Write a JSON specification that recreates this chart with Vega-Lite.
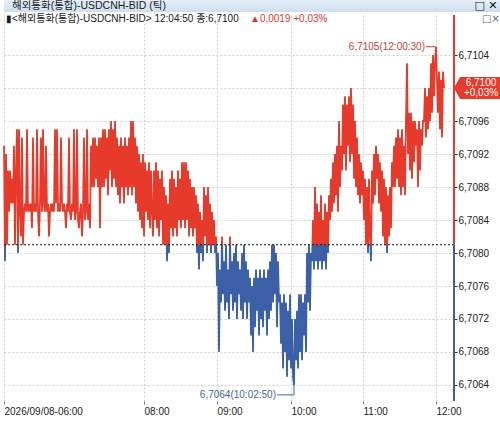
{
"$schema": "https://vega.github.io/schema/vega-lite/v6.json",
"padding": 0,
"background": "white",
"spacing": 3,
"bounds": "flush",
"config": {"view": {"stroke": null}, "font": "Liberation Sans"},
"vconcat": [
{
"width": 500, "height": 12,
"view": {"fill": {"gradient": "linear", "x1": 0, "y1": 0, "x2": 0, "y2": 1, "stops": [{"offset": 0, "color": "#e6eff8"}, {"offset": 1, "color": "#cddff0"}]}, "stroke": null},
"data": {"values": [{}]},
"layer": [
{"mark": {"type": "text", "align": "left", "baseline": "middle", "fontSize": 10.5, "font": "Liberation Sans, Noto Sans CJK KR", "color": "#1a1a1a", "text": "해외통화(통합)-USDCNH-BID (틱)"},
 "encoding": {"x": {"datum": 8, "type": "quantitative", "scale": {"domain": [0, 500], "nice": false, "zero": false}, "axis": null}}},
{"mark": {"type": "text", "align": "center", "baseline": "middle", "fontSize": 11, "font": "DejaVu Sans", "color": "#111", "text": "□ ✕"},
 "encoding": {"x": {"datum": 482, "type": "quantitative", "axis": null}}}
]
},
{
"width": 450, "height": 386,
"resolve": {"axis": {"x": "independent", "y": "independent"}},
"layer": [
{
"data": {"values": [
{"t":0,"v":6.7093},{"t":1,"v":6.7079},{"t":2,"v":6.7092},{"t":3,"v":6.7081},{"t":4,"v":6.709},{"t":5,"v":6.7085},{"t":6,"v":6.709},{"t":7,"v":6.7086},{"t":8,"v":6.7089},{"t":9,"v":6.7086},
{"t":10,"v":6.7093},{"t":11,"v":6.7081},{"t":12,"v":6.709},{"t":13,"v":6.7095},{"t":14,"v":6.708},{"t":15,"v":6.7095},{"t":16,"v":6.7085},{"t":17,"v":6.7082},{"t":18,"v":6.7094},{"t":19,"v":6.7081},
{"t":20,"v":6.7085},{"t":21,"v":6.7086},{"t":22,"v":6.7085},{"t":23,"v":6.7095},{"t":24,"v":6.7085},{"t":25,"v":6.7086},{"t":26,"v":6.7085},{"t":27,"v":6.7086},{"t":28,"v":6.7083},{"t":29,"v":6.7094},
{"t":30,"v":6.7085},{"t":31,"v":6.7086},{"t":32,"v":6.7085},{"t":33,"v":6.7095},{"t":34,"v":6.7085},{"t":35,"v":6.7082},{"t":36,"v":6.7086},{"t":37,"v":6.7094},{"t":38,"v":6.7085},{"t":39,"v":6.7095},
{"t":40,"v":6.7086},{"t":41,"v":6.7085},{"t":42,"v":6.7093},{"t":43,"v":6.7085},{"t":44,"v":6.7086},{"t":45,"v":6.7082},{"t":46,"v":6.7085},{"t":47,"v":6.7086},{"t":48,"v":6.7085},{"t":49,"v":6.7086},
{"t":50,"v":6.7085},{"t":51,"v":6.7095},{"t":52,"v":6.7086},{"t":53,"v":6.7095},{"t":54,"v":6.7085},{"t":55,"v":6.7086},{"t":56,"v":6.7085},{"t":57,"v":6.7094},{"t":58,"v":6.7086},{"t":59,"v":6.7085},
{"t":60,"v":6.7086},{"t":61,"v":6.7085},{"t":62,"v":6.7083},{"t":63,"v":6.7086},{"t":64,"v":6.7085},{"t":65,"v":6.7094},{"t":66,"v":6.7085},{"t":67,"v":6.7084},{"t":68,"v":6.7086},{"t":69,"v":6.7085},
{"t":70,"v":6.7095},{"t":71,"v":6.7084},{"t":72,"v":6.7085},{"t":73,"v":6.7095},{"t":74,"v":6.7084},{"t":75,"v":6.7083},{"t":76,"v":6.7085},{"t":77,"v":6.7086},{"t":78,"v":6.7082},{"t":79,"v":6.7085},
{"t":80,"v":6.7094},{"t":81,"v":6.7084},{"t":82,"v":6.7085},{"t":83,"v":6.7095},{"t":84,"v":6.7084},{"t":85,"v":6.7086},{"t":86,"v":6.7083},{"t":87,"v":6.7093},{"t":88,"v":6.7088},{"t":89,"v":6.7094},
{"t":90,"v":6.7088},{"t":91,"v":6.7094},{"t":92,"v":6.7089},{"t":93,"v":6.7093},{"t":94,"v":6.7088},{"t":95,"v":6.7094},{"t":96,"v":6.7083},{"t":97,"v":6.7094},{"t":98,"v":6.7088},{"t":99,"v":6.7095},
{"t":100,"v":6.7088},{"t":101,"v":6.7095},{"t":102,"v":6.7089},{"t":103,"v":6.7094},{"t":104,"v":6.7087},{"t":105,"v":6.7095},{"t":106,"v":6.709},{"t":107,"v":6.7096},{"t":108,"v":6.7088},{"t":109,"v":6.7095},
{"t":110,"v":6.7089},{"t":111,"v":6.7096},{"t":112,"v":6.7088},{"t":113,"v":6.7094},{"t":114,"v":6.7087},{"t":115,"v":6.7093},{"t":116,"v":6.7086},{"t":117,"v":6.7094},{"t":118,"v":6.7088},{"t":119,"v":6.7093},
{"t":120,"v":6.7086},{"t":121,"v":6.7094},{"t":122,"v":6.7088},{"t":123,"v":6.7093},{"t":124,"v":6.7087},{"t":125,"v":6.7094},{"t":126,"v":6.7088},{"t":127,"v":6.7096},{"t":128,"v":6.7087},{"t":129,"v":6.7096},
{"t":130,"v":6.7088},{"t":131,"v":6.7094},{"t":132,"v":6.7086},{"t":133,"v":6.7093},{"t":134,"v":6.7085},{"t":135,"v":6.7092},{"t":136,"v":6.7084},{"t":137,"v":6.7091},{"t":138,"v":6.7083},{"t":139,"v":6.7092},
{"t":140,"v":6.7082},{"t":141,"v":6.7091},{"t":142,"v":6.7085},{"t":143,"v":6.709},{"t":144,"v":6.7084},{"t":145,"v":6.7091},{"t":146,"v":6.7083},{"t":147,"v":6.709},{"t":148,"v":6.7085},{"t":149,"v":6.7082},
{"t":150,"v":6.709},{"t":151,"v":6.7084},{"t":152,"v":6.7091},{"t":153,"v":6.7083},{"t":154,"v":6.709},{"t":155,"v":6.7082},{"t":156,"v":6.7089},{"t":157,"v":6.7084},{"t":158,"v":6.709},{"t":159,"v":6.7081},
{"t":160,"v":6.7088},{"t":161,"v":6.7081},{"t":162,"v":6.7087},{"t":163,"v":6.7079},{"t":164,"v":6.7086},{"t":165,"v":6.708},{"t":166,"v":6.7089},{"t":167,"v":6.7083},{"t":168,"v":6.709},{"t":169,"v":6.7082},
{"t":170,"v":6.7089},{"t":171,"v":6.7083},{"t":172,"v":6.7088},{"t":173,"v":6.7082},{"t":174,"v":6.709},{"t":175,"v":6.7084},{"t":176,"v":6.7089},{"t":177,"v":6.7083},{"t":178,"v":6.7091},{"t":179,"v":6.7084},
{"t":180,"v":6.7091},{"t":181,"v":6.7083},{"t":182,"v":6.7091},{"t":183,"v":6.7084},{"t":184,"v":6.709},{"t":185,"v":6.7082},{"t":186,"v":6.7089},{"t":187,"v":6.7083},{"t":188,"v":6.7088},{"t":189,"v":6.7082},
{"t":190,"v":6.7088},{"t":191,"v":6.7083},{"t":192,"v":6.7087},{"t":193,"v":6.708},{"t":194,"v":6.7086},{"t":195,"v":6.7078},{"t":196,"v":6.7085},{"t":197,"v":6.708},{"t":198,"v":6.7084},{"t":199,"v":6.7079},
{"t":200,"v":6.7088},{"t":201,"v":6.7082},{"t":202,"v":6.7087},{"t":203,"v":6.708},{"t":204,"v":6.7088},{"t":205,"v":6.7081},{"t":206,"v":6.7086},{"t":207,"v":6.708},{"t":208,"v":6.7085},{"t":209,"v":6.7081},
{"t":210,"v":6.7084},{"t":211,"v":6.708},{"t":212,"v":6.7082},{"t":213,"v":6.7076},{"t":214,"v":6.708},{"t":215,"v":6.7068},{"t":216,"v":6.7078},{"t":217,"v":6.7074},{"t":218,"v":6.7082},{"t":219,"v":6.7075},
{"t":220,"v":6.7079},{"t":221,"v":6.7073},{"t":222,"v":6.7081},{"t":223,"v":6.7074},{"t":224,"v":6.7078},{"t":225,"v":6.7072},{"t":226,"v":6.7082},{"t":227,"v":6.7075},{"t":228,"v":6.7079},{"t":229,"v":6.7073},
{"t":230,"v":6.708},{"t":231,"v":6.7074},{"t":232,"v":6.7081},{"t":233,"v":6.7072},{"t":234,"v":6.7079},{"t":235,"v":6.7075},{"t":236,"v":6.7078},{"t":237,"v":6.7073},{"t":238,"v":6.708},{"t":239,"v":6.7072},
{"t":240,"v":6.7081},{"t":241,"v":6.7074},{"t":242,"v":6.7079},{"t":243,"v":6.7072},{"t":244,"v":6.7078},{"t":245,"v":6.7074},{"t":246,"v":6.7077},{"t":247,"v":6.707},{"t":248,"v":6.7076},{"t":249,"v":6.7068},
{"t":250,"v":6.7077},{"t":251,"v":6.7071},{"t":252,"v":6.7078},{"t":253,"v":6.7073},{"t":254,"v":6.7077},{"t":255,"v":6.707},{"t":256,"v":6.7078},{"t":257,"v":6.7072},{"t":258,"v":6.7077},{"t":259,"v":6.7071},
{"t":260,"v":6.7078},{"t":261,"v":6.7073},{"t":262,"v":6.7077},{"t":263,"v":6.707},{"t":264,"v":6.7078},{"t":265,"v":6.7072},{"t":266,"v":6.7079},{"t":267,"v":6.7073},{"t":268,"v":6.7081},{"t":269,"v":6.7074},
{"t":270,"v":6.7081},{"t":271,"v":6.7075},{"t":272,"v":6.708},{"t":273,"v":6.7071},{"t":274,"v":6.7079},{"t":275,"v":6.7074},{"t":276,"v":6.7075},{"t":277,"v":6.7069},{"t":278,"v":6.7074},{"t":279,"v":6.7066},
{"t":280,"v":6.7075},{"t":281,"v":6.7068},{"t":282,"v":6.7074},{"t":283,"v":6.7065},{"t":284,"v":6.7073},{"t":285,"v":6.7067},{"t":286,"v":6.7075},{"t":287,"v":6.7066},{"t":288,"v":6.7072},{"t":289,"v":6.7065},
{"t":290,"v":6.7064},{"t":291,"v":6.7072},{"t":292,"v":6.7067},{"t":293,"v":6.7073},{"t":294,"v":6.7066},{"t":295,"v":6.7075},{"t":296,"v":6.7068},{"t":297,"v":6.7075},{"t":298,"v":6.7067},{"t":299,"v":6.7074},
{"t":300,"v":6.707},{"t":301,"v":6.7075},{"t":302,"v":6.7068},{"t":303,"v":6.708},{"t":304,"v":6.7074},{"t":305,"v":6.7081},{"t":306,"v":6.7073},{"t":307,"v":6.708},{"t":308,"v":6.7079},{"t":309,"v":6.7084},
{"t":310,"v":6.7078},{"t":311,"v":6.7088},{"t":312,"v":6.7079},{"t":313,"v":6.7086},{"t":314,"v":6.7078},{"t":315,"v":6.7085},{"t":316,"v":6.7079},{"t":317,"v":6.7087},{"t":318,"v":6.7078},{"t":319,"v":6.7084},
{"t":320,"v":6.7079},{"t":321,"v":6.7086},{"t":322,"v":6.7078},{"t":323,"v":6.7085},{"t":324,"v":6.708},{"t":325,"v":6.7087},{"t":326,"v":6.7084},{"t":327,"v":6.7089},{"t":328,"v":6.7085},{"t":329,"v":6.7091},
{"t":330,"v":6.7086},{"t":331,"v":6.7092},{"t":332,"v":6.7087},{"t":333,"v":6.7093},{"t":334,"v":6.7085},{"t":335,"v":6.7096},{"t":336,"v":6.7088},{"t":337,"v":6.7093},{"t":338,"v":6.709},{"t":339,"v":6.7098},
{"t":340,"v":6.7092},{"t":341,"v":6.7099},{"t":342,"v":6.709},{"t":343,"v":6.7098},{"t":344,"v":6.7093},{"t":345,"v":6.7099},{"t":346,"v":6.7091},{"t":347,"v":6.71},{"t":348,"v":6.7092},{"t":349,"v":6.7098},
{"t":350,"v":6.7089},{"t":351,"v":6.7096},{"t":352,"v":6.7088},{"t":353,"v":6.7094},{"t":354,"v":6.7087},{"t":355,"v":6.7092},{"t":356,"v":6.7086},{"t":357,"v":6.7091},{"t":358,"v":6.7087},{"t":359,"v":6.709},
{"t":360,"v":6.7084},{"t":361,"v":6.7089},{"t":362,"v":6.7081},{"t":363,"v":6.7088},{"t":364,"v":6.708},{"t":365,"v":6.7089},{"t":366,"v":6.7082},{"t":367,"v":6.7079},{"t":368,"v":6.709},{"t":369,"v":6.7086},
{"t":370,"v":6.7092},{"t":371,"v":6.7087},{"t":372,"v":6.7093},{"t":373,"v":6.7089},{"t":374,"v":6.7092},{"t":375,"v":6.7086},{"t":376,"v":6.7091},{"t":377,"v":6.7085},{"t":378,"v":6.709},{"t":379,"v":6.7082},
{"t":380,"v":6.7089},{"t":381,"v":6.7081},{"t":382,"v":6.7088},{"t":383,"v":6.708},{"t":384,"v":6.7087},{"t":385,"v":6.7082},{"t":386,"v":6.7088},{"t":387,"v":6.7083},{"t":388,"v":6.7091},{"t":389,"v":6.7088},
{"t":390,"v":6.7093},{"t":391,"v":6.7088},{"t":392,"v":6.7094},{"t":393,"v":6.7089},{"t":394,"v":6.7095},{"t":395,"v":6.7088},{"t":396,"v":6.7094},{"t":397,"v":6.7087},{"t":398,"v":6.7095},{"t":399,"v":6.7088},
{"t":400,"v":6.7093},{"t":401,"v":6.7087},{"t":402,"v":6.7096},{"t":403,"v":6.7103},{"t":404,"v":6.7092},{"t":405,"v":6.7097},{"t":406,"v":6.709},{"t":407,"v":6.7097},{"t":408,"v":6.7089},{"t":409,"v":6.7096},
{"t":410,"v":6.7091},{"t":411,"v":6.7096},{"t":412,"v":6.7093},{"t":413,"v":6.7095},{"t":414,"v":6.7088},{"t":415,"v":6.7096},{"t":416,"v":6.709},{"t":417,"v":6.7095},{"t":418,"v":6.7093},{"t":419,"v":6.7096},
{"t":420,"v":6.7096},{"t":421,"v":6.71},{"t":422,"v":6.7094},{"t":423,"v":6.7099},{"t":424,"v":6.7095},{"t":425,"v":6.71},{"t":426,"v":6.7096},{"t":427,"v":6.7103},{"t":428,"v":6.7097},{"t":429,"v":6.7104},
{"t":430,"v":6.7099},{"t":431,"v":6.7103},{"t":432,"v":6.7105},{"t":433,"v":6.7101},{"t":434,"v":6.7097},{"t":435,"v":6.7102},{"t":436,"v":6.7095},{"t":437,"v":6.7101},{"t":438,"v":6.7094},{"t":439,"v":6.7102},{"t":440,"v":6.71}
]},
"mark": {"type": "line", "interpolate": "linear", "strokeWidth": 1.8, "stroke": {"gradient": "linear", "x1": 0, "y1": 0, "x2": 0, "y2": 1, "stops": [{"offset": 0, "color": "#e83a2b"}, {"offset": 0.5853, "color": "#e83a2b"}, {"offset": 0.5854, "color": "#3c60a8"}, {"offset": 1, "color": "#3c60a8"}]}},
"encoding": {
 "x": {"field": "t", "type": "quantitative", "scale": {"domain": [0, 450], "nice": false, "zero": false},
   "axis": {"orient": "bottom", "values": [0, 140, 213, 287, 359, 432], "labelExpr": "datum.value==0?'2026/09/08-06:00':datum.value==140?'08:00':datum.value==213?'09:00':datum.value==287?'10:00':datum.value==359?'11:00':'12:00'", "labelAlign": "left", "labelBaseline": "top", "labelPadding": 2, "labelFontSize": 10, "labelColor": "#222", "tickSize": 3, "tickColor": "#777", "domain": false, "grid": true, "gridColor": "#d2d2d2", "gridDash": [2, 2], "title": null, "labelOverlap": false, "labelFlush": false}},
 "y": {"field": "v", "type": "quantitative", "scale": {"domain": [6.706206, 6.710885], "nice": false, "zero": false},
   "axis": {"orient": "right", "values": [6.7064, 6.7068, 6.7072, 6.7076, 6.708, 6.7084, 6.7088, 6.7092, 6.7096, 6.71, 6.7104], "labelExpr": "abs(datum.value-6.71)<0.00001?'':replace(format(datum.value,'.4f'),'.',',')", "labelFontSize": 10, "labelColor": "#222", "labelPadding": 1, "tickSize": 3, "tickColor": "#333", "domain": false, "grid": true, "gridColor": "#d2d2d2", "gridDash": [2, 2], "title": null, "labelOverlap": false, "labelFlush": false}}
}
},
{"data": {"values": [{}]}, "mark": {"type": "rule", "color": "#111", "strokeDash": [2, 2], "strokeWidth": 1},
 "encoding": {"x": {"datum": 0, "type": "quantitative", "axis": null}, "x2": {"datum": 450}, "y": {"datum": 6.7081, "type": "quantitative", "axis": null}}},
{"data": {"values": [{}]}, "mark": {"type": "rule", "color": "#e83a2b", "strokeWidth": 2},
 "encoding": {"x": {"datum": 450, "type": "quantitative", "axis": null}, "y": {"datum": 6.7081, "type": "quantitative", "axis": null}, "y2": {"datum": 6.710885}}},
{"data": {"values": [{}]}, "mark": {"type": "rule", "color": "#3c60a8", "strokeWidth": 2},
 "encoding": {"x": {"datum": 450, "type": "quantitative", "axis": null}, "y": {"datum": 6.706206, "type": "quantitative", "axis": null}, "y2": {"datum": 6.7081}}},
{"data": {"values": [{}]}, "mark": {"type": "text", "align": "right", "baseline": "middle", "fontSize": 10, "color": "#c0463a", "text": "6,7105(12:00:30)"},
 "encoding": {"x": {"datum": 421, "type": "quantitative", "axis": null}, "y": {"datum": 6.7105, "type": "quantitative", "axis": null}}},
{"data": {"values": [{}]}, "mark": {"type": "rule", "color": "#c0463a", "strokeWidth": 1},
 "encoding": {"x": {"datum": 422, "type": "quantitative", "axis": null}, "x2": {"datum": 432}, "y": {"datum": 6.7105, "type": "quantitative", "axis": null}}},
{"data": {"values": [{}]}, "mark": {"type": "text", "align": "right", "baseline": "middle", "fontSize": 10, "color": "#48659e", "text": "6,7064(10:02:50)"},
 "encoding": {"x": {"datum": 272, "type": "quantitative", "axis": null}, "y": {"datum": 6.70628, "type": "quantitative", "axis": null}}},
{"data": {"values": [{}]}, "mark": {"type": "rule", "color": "#48659e", "strokeWidth": 1},
 "encoding": {"x": {"datum": 273, "type": "quantitative", "axis": null}, "x2": {"datum": 290}, "y": {"datum": 6.70628, "type": "quantitative", "axis": null}}},
{"data": {"values": [{}]}, "mark": {"type": "rule", "color": "#48659e", "strokeWidth": 1},
 "encoding": {"x": {"datum": 290, "type": "quantitative", "axis": null}, "y": {"datum": 6.70628, "type": "quantitative", "axis": null}, "y2": {"datum": 6.7064}}},
{"data": {"values": [{}]}, "mark": {"type": "point", "shape": "M0,0L6,-11L50,-11L50,11L6,11Z", "size": 4, "filled": true, "color": "#e83a2b", "opacity": 1, "strokeWidth": 0},
 "encoding": {"x": {"datum": 450, "type": "quantitative", "axis": null}, "y": {"datum": 6.71, "type": "quantitative", "axis": null}}},
{"data": {"values": [{}]}, "mark": {"type": "text", "align": "center", "baseline": "middle", "fontSize": 10, "lineHeight": 10, "color": "white", "dx": 27, "dy": -5, "text": ["6,7100", "+0,03%"]},
 "encoding": {"x": {"datum": 450, "type": "quantitative", "axis": null}, "y": {"datum": 6.71, "type": "quantitative", "axis": null}}},
{"data": {"values": [{}]}, "mark": {"type": "text", "align": "left", "baseline": "middle", "fontSize": 10, "font": "Liberation Sans, Noto Sans CJK KR", "color": "#1a1a1a", "text": "▮<해외통화(통합)-USDCNH-BID> 12:04:50 종:6,7100"},
 "encoding": {"x": {"datum": 2, "type": "quantitative", "axis": null}, "y": {"datum": 6.71084, "type": "quantitative", "axis": null}}},
{"data": {"values": [{}]}, "mark": {"type": "text", "align": "left", "baseline": "middle", "fontSize": 10, "font": "Liberation Sans, DejaVu Sans", "color": "#e0392b", "text": "▲0,0019 +0,03%"},
 "encoding": {"x": {"datum": 246, "type": "quantitative", "axis": null}, "y": {"datum": 6.71084, "type": "quantitative", "axis": null}}},
{"data": {"values": [{}]}, "mark": {"type": "text", "align": "center", "baseline": "middle", "fontSize": 10, "font": "DejaVu Sans", "color": "#666", "text": "□×"},
 "encoding": {"x": {"datum": 487, "type": "quantitative", "axis": null}, "y": {"datum": 6.71084, "type": "quantitative", "axis": null}}}
]
}
]
}
